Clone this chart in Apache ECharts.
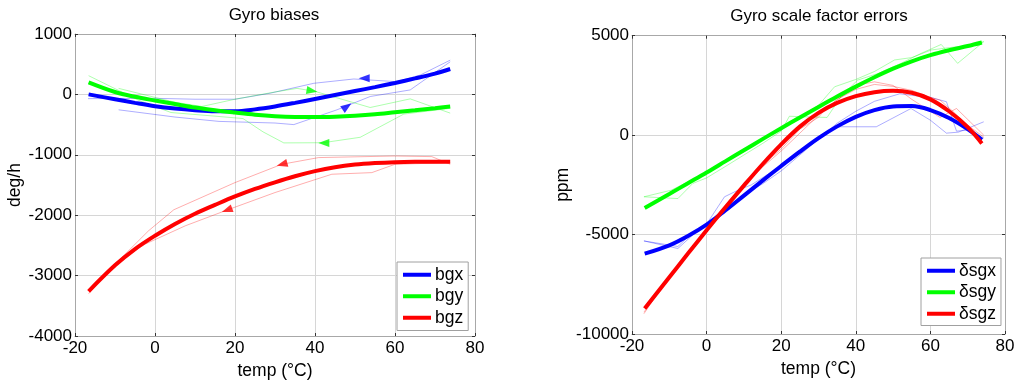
<!DOCTYPE html>
<html>
<head>
<meta charset="utf-8">
<script src="https://cdn.jsdelivr.net/npm/echarts@6/dist/echarts.min.js"></script>
<style>
html,body{margin:0;padding:0;background:#fff;}
#chart{width:1024px;height:385px;}
</style>
</head>
<body>
<div id="chart"></div>
<script>
// ---------- data ----------
const xTicks = [-20, 0, 20, 40, 60, 80];
const fitT = [-16.6,-10,-5,0,5,10,15,20,25,30,35,40,45,50,55,60,65,70,73.8];

// Gyro biases (deg/h) - fitted curves
const bgxFit = [0,-80,-140,-195,-235,-262,-278,-278,-248,-200,-140,-75,-10,55,120,190,265,345,420];
const bgyFit = [200,40,-40,-102,-160,-217,-262,-300,-335,-360,-373,-375,-368,-352,-328,-295,-262,-228,-200];
const bgzFit = [-3260,-2830,-2560,-2340,-2145,-1975,-1830,-1690,-1565,-1455,-1355,-1270,-1205,-1162,-1137,-1122,-1116,-1115,-1115];

// Gyro biases - measured (heating / cooling)
const bgxCool = [[73.8,567],[66.3,320],[60.5,210],[49.7,255],[39.7,184],[28.8,20],[20,-80],[10,-80],[0,-65],[-16.75,-70]];
const bgxHeat = [[-9.1,-255],[5,-375],[16,-447],[30,-474],[34.7,-500],[45.5,-255],[53.8,-35],[63.8,74],[73.8,540]];
const bgyHeat = [[-9.1,100],[0,-50],[5,-130],[11.7,-200],[20,-80],[30,40],[35.5,100],[40,50],[53.8,-217],[63.8,-74],[73.8,-310]];
const bgyCool = [[73.8,-230],[62.2,-326],[51.3,-710],[42,-800],[32.2,-803],[27,-620],[22,-400],[15,-360],[4,-300],[-4,-100],[-16.6,310]];
const bgzCool = [[73.8,-1157],[69.2,-1030],[60,-1020],[40.9,-1046],[31.7,-1157],[20,-1460],[4.7,-1910],[-1.6,-2257],[-8.3,-2700],[-16.6,-3250]];
const bgzHeat = [[-16.6,-3300],[-10,-2800],[-2.4,-2477],[7.6,-2175],[18,-1915],[30,-1625],[44.2,-1322],[54.2,-1295],[60,-1157],[73.8,-1130]];

// direction arrows on measured curves
const bgxArrows = [[52.3,266],[48,-200]];
const bgyArrows = [[39.25,58],[42.2,-803]];
const bgzArrows = [[31.75,-1157],[18,-1916]];
const bgxArrowRot = [90,-55];
const bgyArrowRot = [-100,90];
const bgzArrowRot = [105,110];

// Gyro scale factor errors (ppm) - fitted curves
const sgxFit = [-5960,-5540,-5070,-4500,-3790,-3040,-2290,-1550,-830,-150,440,920,1260,1440,1460,1260,860,300,-230];
const sgyFit = [-3660,-2960,-2420,-1880,-1320,-760,-200,350,890,1420,1940,2440,2910,3340,3710,4020,4270,4480,4660];
const sgzFit = [-8720,-7143,-5958,-4788,-3643,-2538,-1463,-463,427,1120,1620,1960,2160,2230,2130,1800,1200,400,-420];

// Gyro scale factor errors - measured
const sgxA = [[-16.8,-5320],[-7.7,-5700],[-3,-4900],[0.4,-4360],[4.8,-3100],[8.4,-2770],[12,-2500],[17,-1900],[22.7,-1260],[28,-500],[32,150],[35.2,420],[45.5,420],[54.8,1340],[60,750],[64.3,100],[67.5,150],[74.3,670]];
const sgxB = [[-16.8,-5320],[-7.7,-5600],[-4,-4950],[0,-4500],[5,-3800],[10,-3000],[15,-2450],[20,-1800],[25,-1000],[30,-200],[35,600],[40,1200],[45,1700],[51.8,2080],[55,2000],[60,1900],[64.3,1680],[67,200],[70,250],[74.3,-150]];
const sgyA = [[-16.8,-3100],[-7.7,-3190],[-3.7,-2430],[0,-2150],[5,-1580],[10,-1000],[15,-420],[20,200],[22.2,950],[26.3,920],[32.3,890],[36,1930],[40.5,2770],[46,3100],[52,3600],[57.5,4110],[62.9,4560],[67.3,3610],[74.3,4700]];
const sgyB = [[-16.8,-3100],[-9.5,-2770],[-5,-2350],[0,-1900],[5,-1300],[10,-700],[15,-150],[20,400],[25,900],[30,1500],[34.3,2430],[40,2800],[45,3200],[50.4,3780],[55,3900],[60.2,4280],[65,4400],[70,4500],[74.3,4700]];
const sgzA = [[-16.8,-8980],[-10,-7100],[-5,-5950],[0,-4750],[5,-3600],[10,-2400],[15,-1500],[20,-700],[25,300],[30,900],[32.4,1420],[36,1900],[40.5,2520],[45,2680],[50,2500],[55,1800],[60,1200],[62.6,890],[67,1340],[74.3,0]];
const sgzB = [[-16.8,-8900],[-10,-7200],[-5,-6000],[0,-4800],[5,-3700],[10,-2500],[15,-1600],[20,-800],[25,100],[30,1000],[35,1800],[40,2300],[45,2550],[50,2450],[55,2250],[60,1900],[62.6,1760],[66,1200],[70,500],[74.3,-100]];

// ---------- chart ----------
const FONT = 'Liberation Sans, Arial, sans-serif';
const BLUE = '#0000ff', GREEN = '#00ff00', RED = '#ff0000';
const chart = echarts.init(document.getElementById('chart'), null, {renderer: 'canvas'});

function zip(xs, ys) { return xs.map((x, i) => [x, ys[i]]); }

function xAx(grid, top) {
  return {
    type: 'value', gridIndex: grid, min: -20, max: 80, interval: 20,
    position: top ? 'top' : 'bottom',
    name: top ? '' : 'temp (\u00B0C)', nameLocation: 'middle', nameGap: 22,
    nameTextStyle: {fontFamily: FONT, fontSize: 17.5, color: '#000', verticalAlign: 'top'},
    axisLine: {show: true, onZero: false, lineStyle: {color: '#a8a8a8', width: 1}},
    axisTick: {show: true, inside: true, length: 3, lineStyle: {color: '#333'}},
    axisLabel: {show: !top, fontFamily: FONT, fontSize: 17, color: '#000', margin: 4,
      formatter: v => String(v)},
    splitLine: {show: !top, lineStyle: {color: '#d6d6d6', width: 1}}
  };
}
function yAx(grid, right, min, max, interval, name, gap) {
  return {
    type: 'value', gridIndex: grid, min: min, max: max, interval: interval,
    position: right ? 'right' : 'left',
    name: right ? '' : name, nameLocation: 'middle', nameGap: gap,
    nameTextStyle: {fontFamily: FONT, fontSize: 17.5, color: '#000'},
    axisLine: {show: true, onZero: false, lineStyle: {color: '#a8a8a8', width: 1}},
    axisTick: {show: true, inside: true, length: 3, lineStyle: {color: '#333'}},
    axisLabel: {show: !right, fontFamily: FONT, fontSize: 17, color: '#000', margin: 3,
      formatter: v => String(v)},
    splitLine: {show: !right, lineStyle: {color: '#d6d6d6', width: 1}}
  };
}
function thin(data, color, xi, yi) {
  return {type: 'line', xAxisIndex: xi, yAxisIndex: yi, data: data, showSymbol: false, silent: true,
    lineStyle: {color: color, width: 1, opacity: 0.32}, itemStyle: {color: color}, z: 2, animation: false};
}
function thick(name, ys, color, xi, yi) {
  return {type: 'line', name: name, xAxisIndex: xi, yAxisIndex: yi, data: zip(fitT, ys),
    smooth: 0.35, showSymbol: false, lineStyle: {color: color, width: 4}, itemStyle: {color: color}, z: 3, animation: false};
}
function arrows(pts, rots, color) {
  return {type: 'scatter', xAxisIndex: 0, yAxisIndex: 0, silent: true, animation: false, z: 4,
    data: pts.map((p, i) => ({value: p, symbolRotate: rots[i]})),
    symbol: 'triangle', symbolSize: [8, 11], itemStyle: {color: color}};
}
function legend(names, left, top, pad) {
  return {
    data: names, left: left, top: top, orient: 'vertical', selectedMode: false,
    icon: 'rect', itemWidth: 28, itemHeight: 4, itemGap: 0, padding: pad,
    borderColor: '#a0a0a0', borderWidth: 1, backgroundColor: '#fff',
    textStyle: {fontFamily: FONT, fontSize: 17.5, color: '#000', lineHeight: 21.5, padding: [0, 0, 0, -1]}
  };
}

chart.setOption({
  backgroundColor: '#fff',
  animation: false,
  title: [
    {text: 'Gyro biases', left: 274, top: 7, textAlign: 'center', padding: 0,
     textStyle: {fontFamily: FONT, fontSize: 17, fontWeight: 'normal', color: '#000'}},
    {text: 'Gyro scale factor errors', left: 819, top: 8, textAlign: 'center', padding: 0,
     textStyle: {fontFamily: FONT, fontSize: 17, fontWeight: 'normal', color: '#000'}}
  ],
  grid: [
    {left: 75, top: 34, width: 400, height: 302},
    {left: 632, top: 35.7, width: 373, height: 298.3}
  ],
  xAxis: [xAx(0, false), xAx(0, true), xAx(1, false), xAx(1, true)],
  yAxis: [
    yAx(0, false, -4000, 1000, 1000, 'deg/h', 49),
    yAx(0, true, -4000, 1000, 1000, '', 0),
    yAx(1, false, -10000, 5000, 5000, 'ppm', 58),
    yAx(1, true, -10000, 5000, 5000, '', 0)
  ],
  legend: [
    legend(['bgx', 'bgy', 'bgz'], 397, 262, [2, 5, 2, 6]),
    legend(['\u03B4sgx', '\u03B4sgy', '\u03B4sgz'], 921, 258, [2, 5, 1, 6])
  ],
  series: [
    thin(bgxCool, BLUE, 0, 0), thin(bgxHeat, BLUE, 0, 0),
    thin(bgyHeat, GREEN, 0, 0), thin(bgyCool, GREEN, 0, 0),
    thin(bgzCool, RED, 0, 0), thin(bgzHeat, RED, 0, 0),
    thick('bgx', bgxFit, BLUE, 0, 0),
    thick('bgy', bgyFit, GREEN, 0, 0),
    thick('bgz', bgzFit, RED, 0, 0),
    arrows(bgxArrows, bgxArrowRot, BLUE),
    arrows(bgyArrows, bgyArrowRot, GREEN),
    arrows(bgzArrows, bgzArrowRot, RED),

    thin(sgxA, BLUE, 2, 2), thin(sgxB, BLUE, 2, 2),
    thin(sgyA, GREEN, 2, 2), thin(sgyB, GREEN, 2, 2),
    thin(sgzA, RED, 2, 2), thin(sgzB, RED, 2, 2),
    thick('\u03B4sgx', sgxFit, BLUE, 2, 2),
    thick('\u03B4sgy', sgyFit, GREEN, 2, 2),
    thick('\u03B4sgz', sgzFit, RED, 2, 2)
  ]
});
</script>
</body>
</html>
